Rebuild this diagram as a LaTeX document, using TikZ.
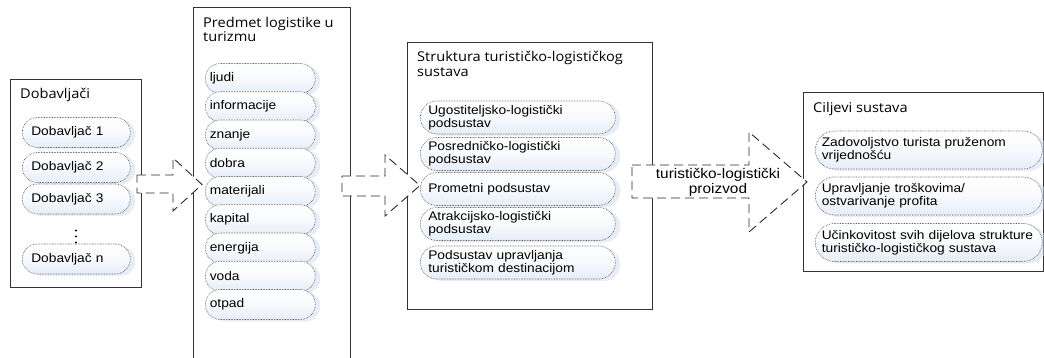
\documentclass[tikz,border=0pt]{standalone}
\usepackage{fontspec}
\newfontfamily\pillfont[FakeStretch=1.1]{Liberation Sans}
\newfontfamily\titlefont[FakeStretch=1.08]{Open Sans}
\usetikzlibrary{shadows}
\definecolor{boxline}{HTML}{333333}
\definecolor{pillborder}{HTML}{5A5A5A}
\definecolor{pillbot}{HTML}{E6EDF7}
\definecolor{pillshadow}{HTML}{D0DCF0}
\definecolor{arrowline}{HTML}{2A2A2A}
\tikzset{
  frame/.style={draw=boxline, line width=1pt},
  pillbase/.style={anchor=west, draw=pillborder, dash pattern=on 0.7pt off 0.9pt,
    line width=0.6pt, top color=white, bottom color=pillbot, middle color=white!70!pillbot,
    drop shadow={shadow xshift=5pt, shadow yshift=-2pt, fill=pillshadow, draw=none},
    inner ysep=0pt, align=left, text=black,
    font=\pillfont\fontsize{12.5}{13}\selectfont},
  pillA/.style={pillbase, rounded corners=15pt, minimum height=30pt, inner xsep=9pt, text width=90pt},
  pillB/.style={pillbase, rounded corners=15pt, minimum height=30pt, inner xsep=4.5pt, text width=101pt},
  pillC/.style={pillbase, rounded corners=16.5pt, minimum height=33pt, inner xsep=8pt, text width=179pt},
  pillD/.style={pillbase, rounded corners=19pt, minimum height=38pt, inner xsep=6.5pt, text width=214pt},
  boxtitle/.style={anchor=base west, inner sep=0pt, text=black,
    font=\titlefont\fontsize{13.5}{15}\selectfont},
  blockarrow/.style={draw=arrowline, fill=white, line width=0.9pt,
    dash pattern=on 9pt off 5pt, line join=miter},
  dotmark/.style={circle, fill=black, inner sep=0pt, minimum size=2.4pt},
  arrowlabel/.style={align=center, inner sep=0pt, text=black,
    font=\pillfont\fontsize{14}{15}\selectfont}
}
\begin{document}
\begin{tikzpicture}[x=1pt, y=-1pt]
\useasboundingbox (0,0) rectangle (1044,358);

% frames
\draw[frame] (10,80) rectangle (141,287);
\draw[frame] (193,362) -- (193,8) -- (350,8) -- (350,362);
\draw[frame] (407,43) rectangle (652,309);
\draw[frame] (803,93) rectangle (1043,271);

% titles
\node[boxtitle] (t1) at (20,99) {Dobavljači};
\node[boxtitle] (t2a) at (203,27.5) {Predmet logistike u};
\node[boxtitle] (t2b) at (203,42) {turizmu};
\node[boxtitle] (t3a) at (417,62) {Struktura turističko-logističkog};
\node[boxtitle] (t3b) at (417,77) {sustava};
\node[boxtitle] (t4) at (813,113) {Ciljevi sustava};

% block arrows
\draw[blockarrow] (137,175) -- (173,175) -- (173,158) -- (202,184.5) -- (173,211) -- (173,193) -- (137,193) -- cycle;
\draw[blockarrow] (342,176) -- (385,176) -- (385,155) -- (420,185.5) -- (385,216) -- (385,196) -- (342,196) -- cycle;
\draw[blockarrow] (632,165) -- (749,165) -- (749,132) -- (807,182) -- (749,232) -- (749,198) -- (632,198) -- cycle;
\node[arrowlabel] (lbl) at (718,182.5) {turističko-logistički\\proizvod};

% Dobavljači
\node[pillA] (d1) at (22,132.5) {Dobavljač 1};
\node[pillA] (d2) at (22,167.5) {Dobavljač 2};
\node[pillA] (d3) at (22,199) {Dobavljač 3};
\node[pillA] (dn) at (22,259) {Dobavljač n};
\node[dotmark] (dot1) at (76,230.5) {};
\node[dotmark] (dot2) at (76,236.5) {};
\node[dotmark] (dot3) at (76,242.5) {};

% Predmet logistike
\node[pillB] (p1) at (205,78.5) {ljudi};
\node[pillB] (p2) at (205,106.75) {informacije};
\node[pillB] (p3) at (205,135) {znanje};
\node[pillB] (p4) at (205,163.25) {dobra};
\node[pillB] (p5) at (205,191.5) {materijali};
\node[pillB] (p6) at (205,219.75) {kapital};
\node[pillB] (p7) at (205,248) {energija};
\node[pillB] (p8) at (205,276.25) {voda};
\node[pillB] (p9) at (205,304.5) {otpad};

% Struktura
\node[pillC] (s1) at (420,117.5) {Ugostiteljsko-logistički\\podsustav};
\node[pillC] (s2) at (420,154) {Posredničko-logistički\\podsustav};
\node[pillC] (s3) at (420,189) {Prometni podsustav};
\node[pillC] (s4) at (420,224) {Atrakcijsko-logistički\\podsustav};
\node[pillC] (s5) at (420,262.5) {Podsustav upravljanja\\turističkom destinacijom};

% Ciljevi
\node[pillD] (c1) at (815,150) {Zadovoljstvo turista pruženom\\vrijednošću};
\node[pillD] (c2) at (815,196) {Upravljanje troškovima/\\ostvarivanje profita};
\node[pillD] (c3) at (815,242.5) {Učinkovitost svih dijelova strukture\\turističko-logističkog sustava};
\end{tikzpicture}
\end{document}
